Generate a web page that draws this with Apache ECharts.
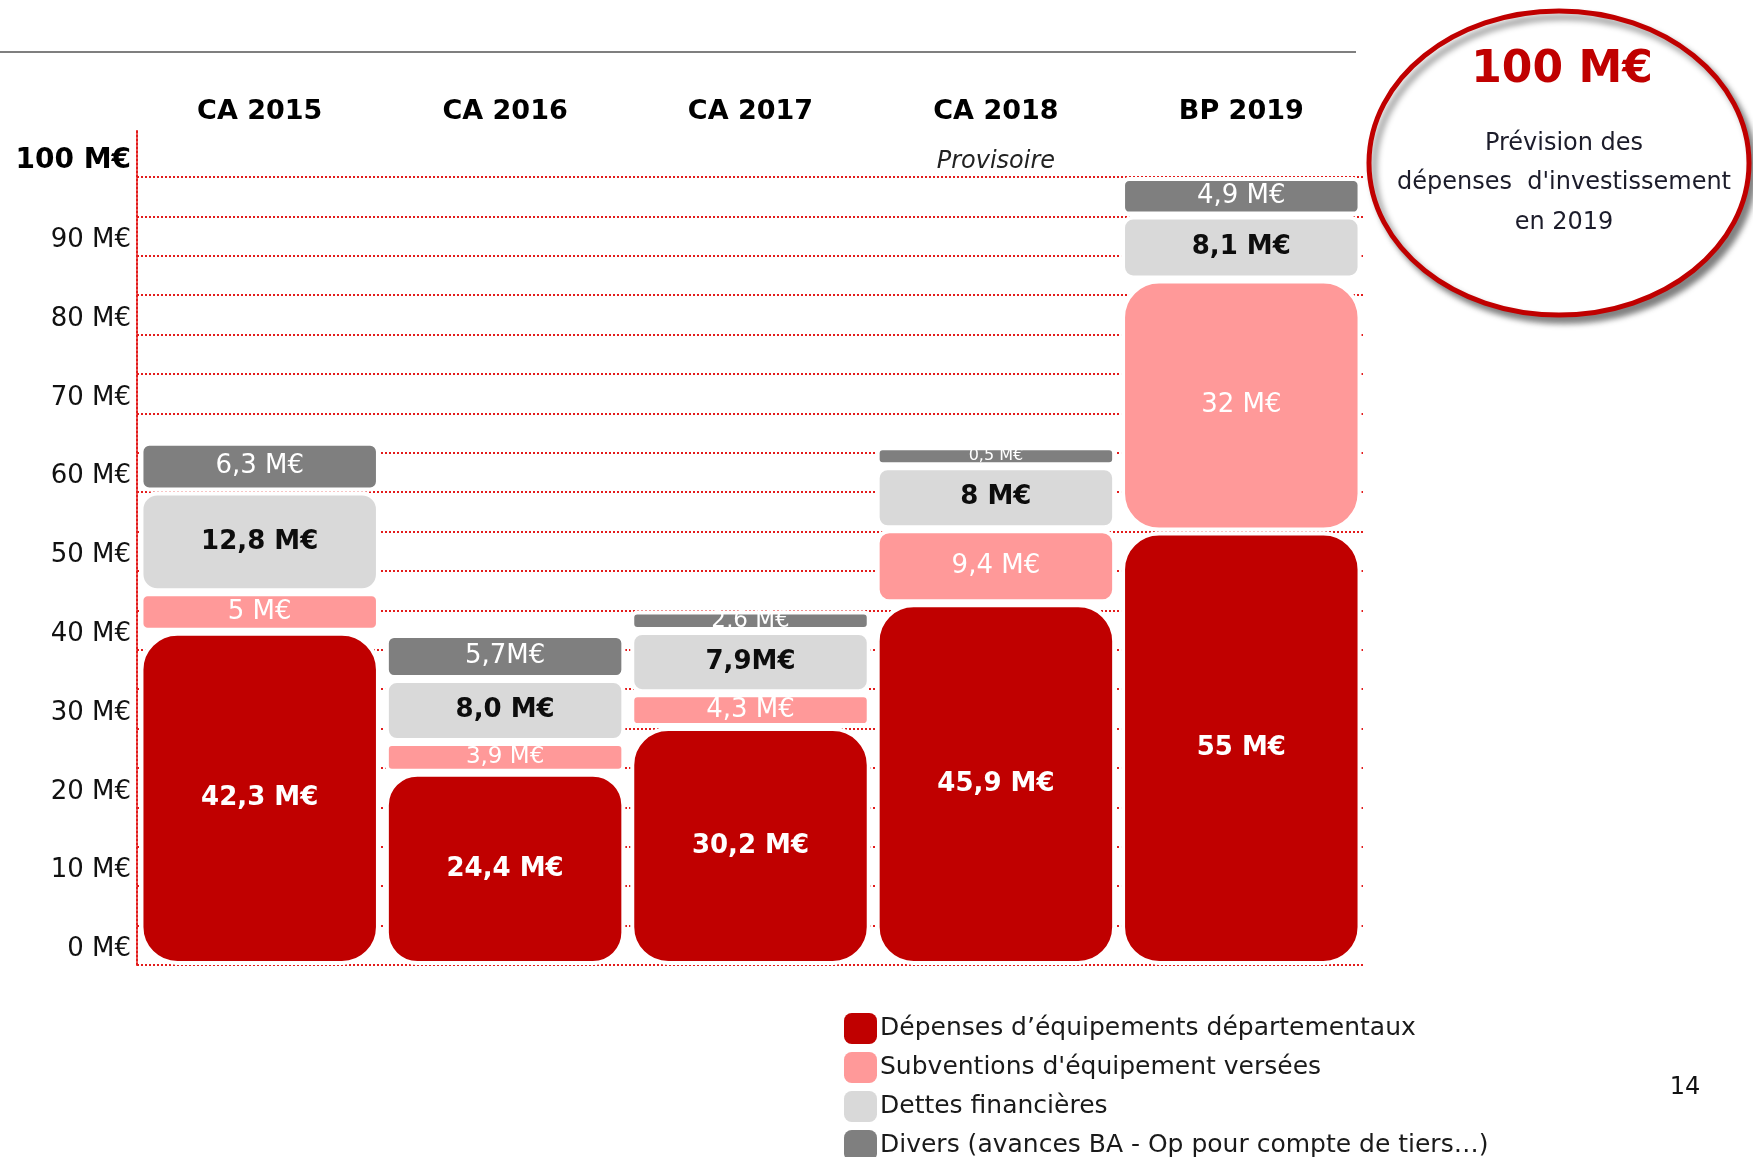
<!DOCTYPE html>
<html>
<head>
<meta charset="utf-8">
<script src="https://cdn.jsdelivr.net/npm/echarts@6/dist/echarts.min.js"></script>
<style>
  html, body { margin: 0; padding: 0; background: #fff; }
  #chart { width: 1753px; height: 1157px; }
</style>
</head>
<body>
<div id="chart"></div>
<script>
// years and the note under CA 2018
const categories = ["CA 2015", "CA 2016", "CA 2017", "CA 2018", "BP 2019"];
const notes = ["", "", "", "Provisoire", ""];

// values in M€, bottom to top of each stack
const equipements = [42.3, 24.4, 30.2, 45.9, 55];
const subventions = [5, 3.9, 4.3, 9.4, 32];
const dettes = [12.8, 8.0, 7.9, 8, 8.1];
const divers = [6.3, 5.7, 2.6, 0.5, 4.9];

// labels as printed on the slide
const equipementsText = ["42,3 M€", "24,4 M€", "30,2 M€", "45,9 M€", "55 M€"];
const subventionsText = ["5 M€", "3,9 M€", "4,3 M€", "9,4 M€", "32 M€"];
const dettesText = ["12,8 M€", "8,0 M€", "7,9M€", "8 M€", "8,1 M€"];
const diversText = ["6,3 M€", "5,7M€", "2,6 M€", "0,5 M€", "4,9 M€"];

const seriesNames = [
  "Dépenses d’équipements départementaux",
  "Subventions d'équipement versées",
  "Dettes financières",
  "Divers (avances BA - Op pour compte de tiers…)"
];

const FONT = "DejaVu Sans";
const GRID_RED = "#e31b1b";

function segment(name, values, texts, color, textColor, bold, extra) {
  return Object.assign({
    name: name,
    type: "bar",
    stack: "total",
    barCategoryGap: "2%",
    itemStyle: { color: color, borderColor: "#fff", borderWidth: 4 },
    label: {
      show: true,
      position: "inside",
      color: textColor,
      fontFamily: FONT,
      fontWeight: bold ? "bold" : "normal",
      fontSize: 26,
      textBorderWidth: 0
    },
    data: values.map((v, i) => ({
      value: v,
      itemStyle: { borderRadius: Math.min(36, Math.max(5, v * 1.25)) },
      label: { formatter: texts[i], fontSize: v < 1 ? 16 : (v < 4 ? 23 : 26) }
    }))
  }, extra || {});
}

const chart = echarts.init(document.getElementById("chart"));

chart.setOption({
  animation: false,
  backgroundColor: "#fff",
  grid: [
    { left: 137, right: 389, top: 177, bottom: 192 },
    { left: 137, right: 389, top: 130, bottom: 192 }
  ],
  xAxis: [
    {
      type: "category",
      data: categories,
      position: "top",
      axisLine: { show: false },
      axisTick: { show: false },
      axisLabel: {
        margin: 2,
        formatter: (v, i) => "{c|" + v + "}\n{p|" + (notes[i] || " ") + "}",
        rich: {
          c: { fontFamily: FONT, fontWeight: "bold", fontSize: 27, color: "#000", lineHeight: 74 },
          p: { fontFamily: FONT, fontStyle: "italic", fontSize: 24, color: "#222", lineHeight: 26 }
        }
      }
    },
    { type: "category", gridIndex: 1, data: categories, show: false }
  ],
  yAxis: [
    {
      type: "value",
      min: 0,
      max: 100,
      interval: 5,
      axisLine: { show: false },
      axisTick: { show: false },
      splitLine: { lineStyle: { color: GRID_RED, width: 2, type: [2, 2] } },
      axisLabel: {
        margin: 6,
        padding: [0, 0, 31, 0],
        formatter: v => v === 100 ? "{b|100 M€}" : (v % 10 === 0 ? "{n|" + v + " M€}" : ""),
        rich: {
          n: { fontFamily: FONT, fontSize: 26, color: "#111" },
          b: { fontFamily: FONT, fontSize: 28, fontWeight: "bold", color: "#000", padding: [0, 0, 2, 0] }
        }
      }
    },
    {
      type: "value",
      gridIndex: 1,
      min: 0,
      max: 100,
      axisLine: { show: true, lineStyle: { color: GRID_RED, width: 2, type: [2, 2] } },
      axisTick: { show: false },
      axisLabel: { show: false },
      splitLine: { show: false }
    }
  ],
  legend: {
    orient: "vertical",
    left: 839,
    top: 1008,
    height: 220,
    itemWidth: 33,
    itemHeight: 31,
    itemGap: 8,
    icon: "roundRect",
    itemStyle: { borderWidth: 0 },
    textStyle: { fontFamily: FONT, fontSize: 25, color: "#1a1a1a", padding: [0, 0, 0, -2] },
    data: seriesNames
  },
  graphic: [
    { type: "line", shape: { x1: 0, y1: 52, x2: 1356, y2: 52 }, style: { stroke: "#7f7f7f", lineWidth: 2 } },
    {
      type: "ellipse",
      shape: { cx: 1559, cy: 163, rx: 190, ry: 152 },
      style: {
        fill: "#fff", stroke: "#c00000", lineWidth: 5,
        shadowBlur: 6, shadowOffsetX: 5, shadowOffsetY: 6, shadowColor: "rgba(0,0,0,0.45)"
      }
    },
    {
      type: "text", x: 1562, y: 71,
      style: { text: "100 M€", fill: "#c00000", font: "bold 44px 'DejaVu Sans'", align: "center", verticalAlign: "middle" }
    },
    {
      type: "text", x: 1564, y: 183,
      style: {
        text: "Prévision des\ndépenses  d'investissement\nen 2019",
        fill: "#1c1c2a", font: "24px 'DejaVu Sans'", lineHeight: 39.5,
        align: "center", verticalAlign: "middle"
      }
    },
    {
      type: "text", x: 1685, y: 1088,
      style: { text: "14", fill: "#111", font: "24px 'DejaVu Sans'", align: "center", verticalAlign: "middle" }
    }
  ],
  series: [
    segment(seriesNames[0], equipements, equipementsText, "#c00000", "#fff", true),
    segment(seriesNames[1], subventions, subventionsText, "#ff9999", "#fff", false),
    segment(seriesNames[2], dettes, dettesText, "#d9d9d9", "#0d0d0d", true),
    segment(seriesNames[3], divers, diversText, "#7f7f7f", "#fff", false, { barMinHeight: 20 })
  ]
});
</script>
</body>
</html>
